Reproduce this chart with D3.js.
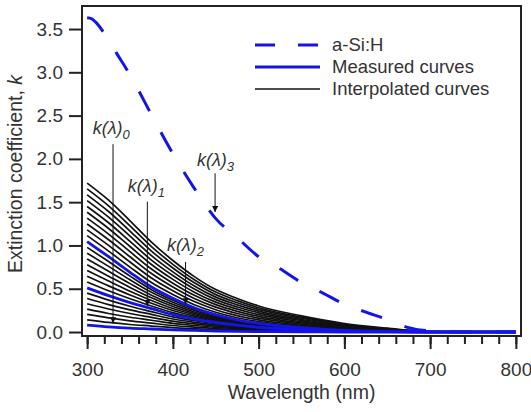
<!DOCTYPE html>
<html><head><meta charset="utf-8">
<script src="https://cdn.jsdelivr.net/npm/d3@7"></script>
<style>body{margin:0;background:#fff}svg{display:block}text{font-family:"Liberation Sans",Arial,sans-serif;fill:#333}</style>
</head><body><svg id="c" width="531" height="412"></svg>
<script>
// ---- data ----
const lambdas = [300,325,350,375,400,425,450,475,500,550,600,650,700,800];
const aSiHLambda = [300,305,310,320,335,350,375,400,425,450,475,500,525,550,575,600,625,650,675,700,710,720,800];
const aSiHK = [3.63,3.62,3.58,3.45,3.21,2.97,2.51,2.06,1.66,1.31,1.09,0.87,0.73,0.57,0.45,0.32,0.23,0.145,0.05,0.015,0.015,0,0];
const measuredK0 = [0.08,0.06,0.045,0.035,0.025,0.018,0.012,0.008,0.005,0.002,0,0,0,0];
const measuredK1 = [0.51,0.42,0.34,0.27,0.20,0.15,0.11,0.08,0.055,0.025,0.01,0.004,0,0];
const measuredK2 = [1.045,0.87,0.69,0.52,0.39,0.28,0.20,0.14,0.10,0.05,0.02,0.008,0,0];
const interpolatedK = [
  [0.141,0.111,0.087,0.069,0.050,0.037,0.026,0.018,0.012,0.005,0.001,0.001,0,0],
  [0.203,0.163,0.129,0.102,0.075,0.056,0.040,0.029,0.019,0.009,0.003,0.001,0,0],
  [0.264,0.214,0.171,0.136,0.100,0.075,0.054,0.039,0.026,0.012,0.004,0.002,0,0],
  [0.326,0.266,0.214,0.169,0.125,0.093,0.068,0.049,0.034,0.015,0.006,0.002,0,0],
  [0.387,0.317,0.256,0.203,0.150,0.112,0.082,0.059,0.041,0.018,0.007,0.003,0,0],
  [0.449,0.369,0.298,0.236,0.175,0.131,0.096,0.070,0.048,0.022,0.009,0.003,0,0],
  [0.577,0.476,0.384,0.301,0.224,0.166,0.121,0.088,0.061,0.028,0.011,0.005,0,0],
  [0.644,0.533,0.428,0.333,0.248,0.183,0.133,0.095,0.066,0.031,0.013,0.005,0,0],
  [0.711,0.589,0.471,0.364,0.271,0.199,0.144,0.103,0.072,0.034,0.014,0.006,0,0],
  [0.778,0.645,0.515,0.395,0.295,0.215,0.155,0.110,0.078,0.038,0.015,0.006,0,0],
  [0.844,0.701,0.559,0.426,0.319,0.231,0.166,0.118,0.083,0.041,0.016,0.007,0,0],
  [0.911,0.758,0.603,0.458,0.343,0.248,0.178,0.125,0.089,0.044,0.018,0.007,0,0],
  [0.978,0.814,0.646,0.489,0.366,0.264,0.189,0.133,0.094,0.047,0.019,0.008,0,0],
  [1.113,0.935,0.750,0.572,0.434,0.316,0.229,0.165,0.120,0.064,0.028,0.012,0.000,0],
  [1.180,1.001,0.809,0.624,0.477,0.352,0.258,0.190,0.140,0.077,0.036,0.015,0.001,0],
  [1.248,1.066,0.869,0.676,0.521,0.388,0.287,0.214,0.160,0.091,0.043,0.019,0.001,0],
  [1.315,1.131,0.928,0.728,0.564,0.424,0.316,0.239,0.180,0.104,0.051,0.022,0.002,0],
  [1.383,1.196,0.988,0.780,0.608,0.460,0.345,0.264,0.201,0.118,0.059,0.026,0.002,0],
  [1.450,1.262,1.047,0.831,0.652,0.496,0.374,0.289,0.221,0.132,0.067,0.030,0.002,0],
  [1.518,1.327,1.107,0.883,0.695,0.532,0.403,0.314,0.241,0.145,0.075,0.033,0.003,0],
  [1.585,1.392,1.166,0.935,0.739,0.568,0.432,0.338,0.261,0.159,0.082,0.037,0.003,0],
  [1.653,1.457,1.226,0.987,0.782,0.604,0.461,0.363,0.281,0.172,0.090,0.040,0.004,0],
  [1.720,1.523,1.285,1.039,0.826,0.640,0.490,0.388,0.301,0.186,0.098,0.044,0.004,0]
];
const xTicks = [300,400,500,600,700,800];
const xMinorTicks = d3.range(300,801,20);
const yTicks = [0,0.5,1.0,1.5,2.0,2.5,3.0,3.5];
const legendLabels = ["a-Si:H","Measured curves","Interpolated curves"];
// annotation: label subscript, text anchor (lambda,k), arrow x lambda, arrow from k, arrow to k
const annoSub = ["0","1","2","3"];
const annoTextLambda = [306.5,347.5,393,428];
const annoTextK = [2.29,1.62,0.94,1.92];
const annoArrowLambda = [330.2,370.2,414.8,449.2];
const annoArrowFromK = [2.17,1.505,0.81,1.833];
const annoArrowToK = [0.10,0.30,0.32,1.385];

// ---- layout ----
const svg = d3.select("#c");
const L = 82, R = 521, T = 6, B = 336;
const x = d3.scaleLinear().domain([294,806]).range([L,R]);
const y = d3.scaleLinear().domain([-0.046,3.766]).range([B,T]);
const blue = "#1414e6", ink = "#222";

svg.append("defs").append("clipPath").attr("id","clip")
  .append("rect").attr("x",L).attr("y",T).attr("width",R-L).attr("height",B-T);
svg.select("defs").append("marker").attr("id","arr").attr("viewBox","0 0 10 10")
  .attr("refX",10).attr("refY",5).attr("markerWidth",7).attr("markerHeight",6)
  .attr("markerUnits","userSpaceOnUse").attr("orient","auto")
  .append("path").attr("d","M0,0L10,5L0,10Z").attr("fill","#111");

const line = d3.line().x(d=>x(d[0])).y(d=>y(d[1])).curve(d3.curveMonotoneX);
const plot = svg.append("g").attr("clip-path","url(#clip)");

interpolatedK.forEach(arr=>{
  plot.append("path").attr("d",line(lambdas.map((l,i)=>[l,arr[i]])))
    .attr("fill","none").attr("stroke","#111").attr("stroke-width",1.7);
});
[measuredK0,measuredK1,measuredK2].forEach(arr=>{
  plot.append("path").attr("d",line(lambdas.map((l,i)=>[l,arr[i]])))
    .attr("fill","none").attr("stroke",blue).attr("stroke-width",2.8);
});
plot.append("path").attr("d",line(aSiHLambda.map((l,i)=>[l,aSiHK[i]])))
  .attr("fill","none").attr("stroke",blue).attr("stroke-width",3)
  .attr("stroke-dasharray","22,24");

// frame
svg.append("rect").attr("x",L).attr("y",T).attr("width",R-L).attr("height",B-T)
  .attr("fill","none").attr("stroke",ink).attr("stroke-width",2);

// x axis
const xa = svg.append("g").attr("transform",`translate(0,${B})`);
xa.call(d3.axisBottom(x).tickValues(xMinorTicks).tickSize(8).tickFormat(""));
xa.call(g=>{g.select(".domain").remove();});
const xb = svg.append("g").attr("transform",`translate(0,${B})`);
xb.call(d3.axisBottom(x).tickValues(xTicks).tickSize(13).tickPadding(14).tickFormat(d3.format("d")));
xb.select(".domain").remove();
[xa,xb].forEach(g=>g.selectAll("line").attr("stroke",ink).attr("stroke-width",2));
xb.selectAll("text").attr("font-size",19).attr("fill","#333").attr("font-family","Liberation Sans, Arial, sans-serif");

// y axis
const ya = svg.append("g").attr("transform",`translate(${L},0)`);
ya.call(d3.axisLeft(y).tickValues(yTicks).tickSize(13).tickPadding(6).tickFormat(d3.format(".1f")));
ya.select(".domain").remove();
ya.selectAll("line").attr("stroke",ink).attr("stroke-width",2);
ya.selectAll("text").attr("font-size",19).attr("fill","#333").attr("font-family","Liberation Sans, Arial, sans-serif");

// axis titles
svg.append("text").attr("x",(x(300)+x(800))/2).attr("y",399).attr("text-anchor","middle")
  .attr("font-size",19.5).text("Wavelength (nm)");
const yt = svg.append("text").attr("transform","translate(22,174) rotate(-90)")
  .attr("text-anchor","middle").attr("font-size",19.5);
yt.append("tspan").text("Extinction coefficient, ");
yt.append("tspan").attr("font-style","italic").text("k");

// legend
const lg = svg.append("g");
const lx0 = 255, lx1 = 320, ly0 = 45, ldy = 22;
lg.append("line").attr("x1",lx0).attr("x2",lx1).attr("y1",ly0).attr("y2",ly0)
  .attr("stroke",blue).attr("stroke-width",3).attr("stroke-dasharray","20,23");
lg.append("line").attr("x1",lx0).attr("x2",lx1).attr("y1",ly0+ldy).attr("y2",ly0+ldy)
  .attr("stroke",blue).attr("stroke-width",3);
lg.append("line").attr("x1",lx0).attr("x2",lx1).attr("y1",ly0+2*ldy).attr("y2",ly0+2*ldy)
  .attr("stroke","#111").attr("stroke-width",1.6);
legendLabels.forEach((t,i)=>{
  lg.append("text").attr("x",332).attr("y",ly0+i*ldy).attr("dy","0.35em")
    .attr("font-size",18.5).text(t);
});

// annotations
annoSub.forEach((s,i)=>{
  const t = svg.append("text").attr("x",x(annoTextLambda[i])).attr("y",y(annoTextK[i]))
    .attr("font-size",18).attr("font-style","italic");
  t.append("tspan").text("k(λ)");
  t.append("tspan").attr("font-size",13).attr("dy",5).text(s);
  svg.append("line").attr("x1",x(annoArrowLambda[i])).attr("x2",x(annoArrowLambda[i]))
    .attr("y1",y(annoArrowFromK[i])).attr("y2",y(annoArrowToK[i]))
    .attr("stroke","#111").attr("stroke-width",1).attr("marker-end","url(#arr)");
});
</script></body></html>
